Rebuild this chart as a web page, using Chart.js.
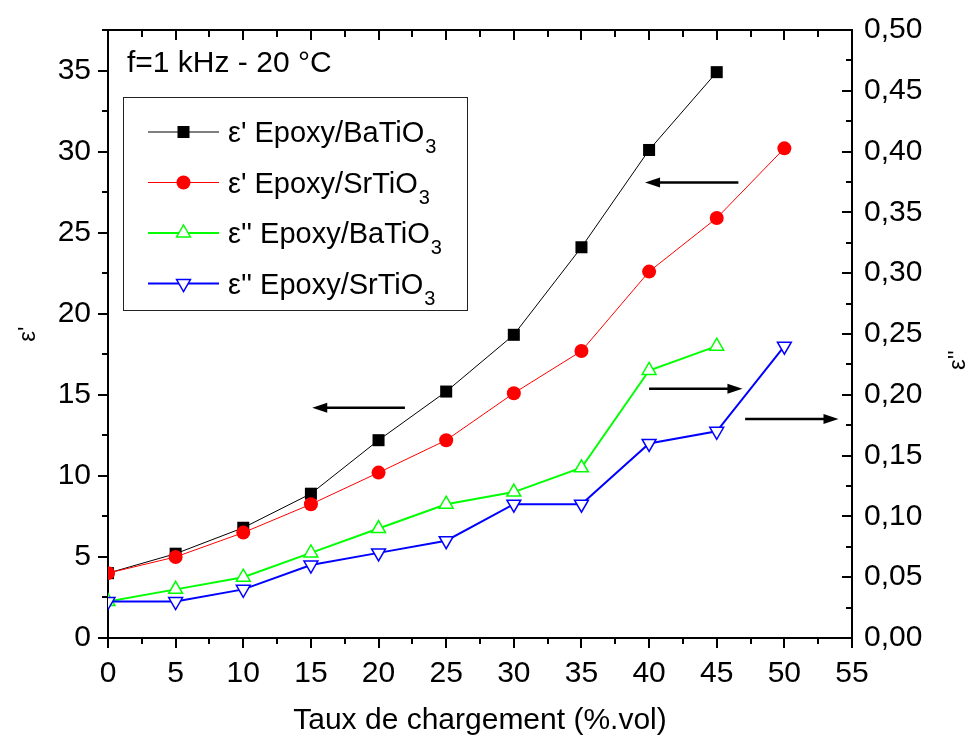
<!DOCTYPE html>
<html>
<head>
<meta charset="utf-8">
<title>Permittivite Epoxy / BaTiO3 - SrTiO3</title>
<script src="https://cdn.jsdelivr.net/npm/chart.js@4/dist/chart.umd.min.js"></script>
<style>
  html, body { margin: 0; padding: 0; background: #fff; }
  #wrap { width: 978px; height: 742px; }
</style>
</head>
<body>
<div id="wrap"><canvas id="chart" width="978" height="742"></canvas></div>
<script>
// data
const loadings = [0, 5, 10, 15, 20, 25, 30, 35, 40, 45, 50];
const epsRealBa = [4.0, 5.2, 6.8, 8.9, 12.2, 15.2, 18.7, 24.1, 30.1, 34.9];
const epsRealSr = [4.0, 5.0, 6.5, 8.25, 10.2, 12.2, 15.1, 17.7, 22.6, 25.9, 30.2];
const epsImagBa = [0.03, 0.04, 0.05, 0.07, 0.09, 0.11, 0.12, 0.14, 0.22, 0.24];
const epsImagSr = [0.03, 0.03, 0.04, 0.06, 0.07, 0.08, 0.11, 0.11, 0.16, 0.17, 0.24];

const seriesNames = ["ε' Epoxy/BaTiO", "ε' Epoxy/SrTiO", "ε'' Epoxy/BaTiO", "ε'' Epoxy/SrTiO"];
const subscript = "3";

const xTicks = [0, 5, 10, 15, 20, 25, 30, 35, 40, 45, 50, 55];
const leftTicks = [0, 5, 10, 15, 20, 25, 30, 35];
const rightTicks = [0, 0.05, 0.1, 0.15, 0.2, 0.25, 0.3, 0.35, 0.4, 0.45, 0.5];
const rightTickLabels = ["0,00", "0,05", "0,10", "0,15", "0,20", "0,25", "0,30", "0,35", "0,40", "0,45", "0,50"];

const noteText = "f=1 kHz - 20 °C";
const xTitle = "Taux de chargement (%.vol)";
const leftTitle = "ε'";
const rightTitle = "ε''";

// arrows pointing at the axis each group belongs to (data units)
const arrows = [
  { scale: "y", from: 46.6, to: 39.7, at: 28.1 },
  { scale: "y", from: 21.95, to: 15.1, at: 14.2 },
  { scale: "y2", from: 40.0, to: 46.9, at: 0.205 },
  { scale: "y2", from: 47.1, to: 54.0, at: 0.18 }
];

const FONT = "'Liberation Sans', Arial, sans-serif";
const pts = vals => vals.map((v, i) => ({ x: loadings[i], y: v }));

function drawMarker(ctx, style, x, y, color) {
  ctx.save();
  ctx.fillStyle = color;
  ctx.strokeStyle = color;
  ctx.lineWidth = 1.5;
  ctx.beginPath();
  if (style == "rect") {
    ctx.rect(x - 6, y - 6, 12, 12);
    ctx.fill();
  } else if (style == "circle") {
    ctx.arc(x, y, 7, 0, Math.PI * 2);
    ctx.fill();
  } else {
    let r = 8, s = style == "down" ? -1 : 1;
    ctx.moveTo(x, y - s * r);
    ctx.lineTo(x + r * 0.866, y + s * r / 2);
    ctx.lineTo(x - r * 0.866, y + s * r / 2);
    ctx.closePath();
    ctx.fillStyle = "#fff";
    ctx.fill();
    ctx.stroke();
  }
  ctx.restore();
}

const extras = {
  id: "extras",
  afterDraw(chart) {
    const ctx = chart.ctx;
    const a = chart.chartArea;
    const x = chart.scales.x, y = chart.scales.y, y2 = chart.scales.y2;
    ctx.save();
    ctx.strokeStyle = "#000";
    ctx.lineWidth = 2;

    // top frame
    ctx.beginPath();
    ctx.moveTo(a.left - 1, a.top);
    ctx.lineTo(a.right + 1, a.top);
    ctx.stroke();

    ctx.beginPath();
    for (let v = 0; v <= 55; v += 2.5) {
      let px = Math.round(x.getPixelForValue(v));
      let major = v % 5 == 0;
      // top ticks, inward
      ctx.moveTo(px, a.top);
      ctx.lineTo(px, a.top + (major ? 10 : 7));
      // bottom minor ticks
      if (!major) {
        ctx.moveTo(px, a.bottom);
        ctx.lineTo(px, a.bottom + 6);
      }
    }
    for (let v = 2.5; v <= 37.5; v += 5) {
      let py = Math.round(y.getPixelForValue(v));
      ctx.moveTo(a.left, py);
      ctx.lineTo(a.left - 6, py);
    }
    for (let v = 0; v <= 0.5001; v += 0.025) {
      let py = Math.round(y2.getPixelForValue(v));
      let major = Math.round(v * 1000) % 50 == 0;
      ctx.moveTo(a.right, py);
      ctx.lineTo(a.right - (major ? 10 : 6), py);
    }
    ctx.stroke();

    // arrows
    ctx.fillStyle = "#000";
    arrows.forEach(ar => {
      let sc = chart.scales[ar.scale];
      let x0 = x.getPixelForValue(ar.from), x1 = x.getPixelForValue(ar.to);
      let py = sc.getPixelForValue(ar.at);
      let dir = x1 > x0 ? 1 : -1;
      ctx.lineWidth = 2.5;
      ctx.beginPath();
      ctx.moveTo(x0, py);
      ctx.lineTo(x1 - dir * 10, py);
      ctx.stroke();
      ctx.beginPath();
      ctx.moveTo(x1, py);
      ctx.lineTo(x1 - dir * 15, py - 5);
      ctx.lineTo(x1 - dir * 15, py + 5);
      ctx.closePath();
      ctx.fill();
    });

    // note
    ctx.font = "30px " + FONT;
    ctx.textBaseline = "alphabetic";
    ctx.textAlign = "left";
    ctx.fillText(noteText, 127, 72);

    // legend
    ctx.lineWidth = 1;
    ctx.strokeStyle = "#222";
    ctx.strokeRect(123.5, 97.5, 344, 213);
    const ds = chart.data.datasets;
    ds.forEach((d, i) => {
      let cy = 132 + i * 50.5;
      ctx.strokeStyle = d.borderColor;
      ctx.lineWidth = d.borderWidth;
      ctx.beginPath();
      ctx.moveTo(148, cy);
      ctx.lineTo(219, cy);
      ctx.stroke();
      drawMarker(ctx, d.legendMarker, 183.5, cy, d.borderColor);
      ctx.fillStyle = "#000";
      ctx.font = "29px " + FONT;
      ctx.fillText(seriesNames[i], 228, cy + 10);
      let w = ctx.measureText(seriesNames[i]).width;
      ctx.font = "20px " + FONT;
      ctx.fillText(subscript, 228 + w + 1, cy + 21);
    });

    // right axis title, reads bottom to top like the left one
    ctx.save();
    ctx.translate(958, 360);
    ctx.rotate(-Math.PI / 2);
    ctx.font = "24px " + FONT;
    ctx.textAlign = "center";
    ctx.textBaseline = "middle";
    ctx.fillStyle = "#000";
    ctx.fillText(rightTitle, 0, 0);
    ctx.restore();

    ctx.restore();
  }
};

let ctx = document.getElementById("chart").getContext("2d");
const chart = new Chart(ctx, {
  type: "line",
  data: {
    datasets: [
      {
        label: seriesNames[0] + subscript,
        data: pts(epsRealBa),
        yAxisID: "y",
        borderColor: "#000000",
        backgroundColor: "#000000",
        borderWidth: 1,
        pointStyle: "rect",
        pointRadius: 8.5,
        pointBorderWidth: 0,
        legendMarker: "rect",
        order: 4
      },
      {
        label: seriesNames[1] + subscript,
        data: pts(epsRealSr),
        yAxisID: "y",
        borderColor: "#ff0000",
        backgroundColor: "#ff0000",
        borderWidth: 1,
        pointStyle: "circle",
        pointRadius: 7,
        pointBorderWidth: 0,
        legendMarker: "circle",
        order: 3
      },
      {
        label: seriesNames[2] + subscript,
        data: pts(epsImagBa),
        yAxisID: "y2",
        borderColor: "#00ff00",
        backgroundColor: "#ffffff",
        borderWidth: 2,
        pointStyle: "triangle",
        pointRadius: 8,
        pointBorderWidth: 1.5,
        legendMarker: "up",
        order: 2
      },
      {
        label: seriesNames[3] + subscript,
        data: pts(epsImagSr),
        yAxisID: "y2",
        borderColor: "#0000ff",
        backgroundColor: "#ffffff",
        borderWidth: 2,
        pointStyle: "triangle",
        pointRotation: 180,
        pointRadius: 8,
        pointBorderWidth: 1.5,
        legendMarker: "down",
        order: 1
      }
    ]
  },
  options: {
    responsive: false,
    animation: false,
    devicePixelRatio: 1,
    layout: { padding: { top: 23, left: 0, right: 0, bottom: 0 } },
    plugins: { legend: { display: false }, tooltip: { enabled: false } },
    elements: { line: { tension: 0 } },
    scales: {
      x: {
        type: "linear",
        position: "bottom",
        min: 0,
        max: 55,
        afterBuildTicks: s => { s.ticks = xTicks.map(v => ({ value: v })); },
        afterFit: s => { s.height = 104; },
        ticks: { color: "#000", font: { family: FONT, size: 30 }, padding: 8, maxRotation: 0 },
        grid: { drawOnChartArea: false, color: "#000", lineWidth: 2, tickLength: 10 },
        border: { display: true, color: "#000", width: 2 },
        title: { display: true, text: xTitle, color: "#000", font: { family: FONT, size: 30 }, padding: { top: 0, bottom: 3 } }
      },
      y: {
        type: "linear",
        position: "left",
        min: 0,
        max: 37.5,
        afterBuildTicks: s => { s.ticks = leftTicks.map(v => ({ value: v })); },
        afterFit: s => { s.width = 108; },
        ticks: { color: "#000", font: { family: FONT, size: 30 }, padding: 7 },
        grid: { drawOnChartArea: false, color: "#000", lineWidth: 2, tickLength: 10 },
        border: { display: true, color: "#000", width: 2 },
        title: { display: true, text: leftTitle, color: "#000", font: { family: FONT, size: 24 }, padding: { top: 14, bottom: 0 } }
      },
      y2: {
        type: "linear",
        position: "right",
        min: 0,
        max: 0.5,
        afterBuildTicks: s => { s.ticks = rightTicks.map(v => ({ value: v })); },
        afterFit: s => { s.width = 126; },
        ticks: { color: "#000", font: { family: FONT, size: 30 }, padding: 12, callback: (v, i) => rightTickLabels[i] },
        grid: { drawOnChartArea: false, drawTicks: false },
        border: { display: true, color: "#000", width: 2 }
      }
    }
  },
  plugins: [extras]
});
</script>
</body>
</html>
